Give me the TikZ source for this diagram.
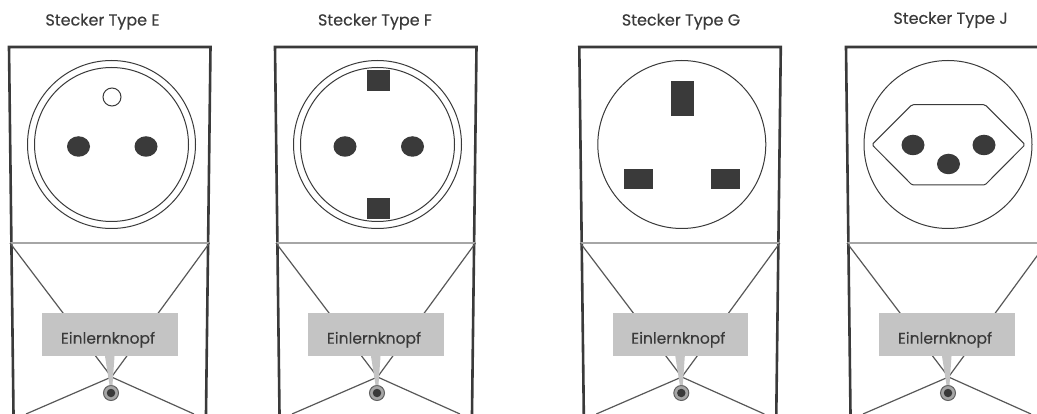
\documentclass[tikz,border=0pt]{standalone}
\usepackage{fontspec}
\setmainfont{Poppins}[FakeBold=0.25]
\usetikzlibrary{positioning,shapes.geometric}
\definecolor{ink}{HTML}{3A3A3A}
\definecolor{tag}{HTML}{C4C4C4}
\tikzset{
    %Define style for walls of the housing
    wall/.style={
           draw=ink,
           line width=2.6pt,
           line cap=butt},
    fold/.style={
           draw=ink!85!white,
           line width=1.2pt},
    crease/.style={
           draw=black!35!white,
           line width=1.4pt},
    %Define style for sockets
    ring/.style={
           circle,
           draw=ink,
           line width=1pt,
           inner sep=0pt,
           outer sep=0pt},
    hole/.style={
           ellipse,
           fill=ink,
           minimum width=23pt,
           minimum height=20.5pt,
           inner sep=0pt},
    pin/.style={
           rectangle,
           fill=ink,
           inner sep=0pt,
           outer sep=0pt},
    %Define style for labels
    title/.style={
           text=ink,
           font=\fontsize{16}{18}\selectfont},
    tagbox/.style={
           rectangle,
           fill=tag,
           text=ink,
           minimum width=135.5pt,
           minimum height=43pt,
           inner sep=0pt,
           outer sep=0pt,
           text height=18pt,
           text depth=0pt,
           font=\fontsize{15.5}{18}\selectfont}
}
\begin{document}
\begin{tikzpicture}[x=1pt,y=-1pt]
\clip (0,0) rectangle (1037,414);
\fill[white] (0,0) rectangle (1037,414);
 %housings
\foreach \n/\px/\tx/\ty/\letter in {e/9/102.5/21.7/E,f/275/375/21.7/F,g/579.3/681/21.7/G,j/846/950.6/20/J}{
  \node[title] (title\n) at (\tx,\ty) {Stecker Type \letter};
  \begin{scope}[xshift=\px pt]
    \coordinate (tl\n) at (0,47);
    \coordinate (tr\n) at (201.5,47);
    \coordinate (bl\n) at (4.5,414);
    \coordinate (br\n) at (197,414);
    \coordinate (ml\n) at (1,243);
    \coordinate (mr\n) at (200.5,243);
    \coordinate (apex\n) at (102.5,377);
    \coordinate (dl\n) at (17,414);
    \coordinate (dr\n) at (185,414);
    \draw[wall] (bl\n) -- (tl\n) -- (tr\n) -- (br\n);
    \draw[crease] (ml\n) -- (mr\n);
    \path[fold] (apex\n) edge (ml\n) edge (mr\n) edge (dl\n) edge (dr\n);
    \node[tagbox] (tag\n) at (101,334.7) {\hspace*{-4pt}Einlernknopf};
    \node[circle,draw=ink!80!white,fill=black!35!white,line width=1pt,minimum size=15pt,inner sep=0pt] (btn\n) at (102,393) {};
    \node[circle,fill=ink,minimum size=8.5pt,inner sep=0pt] (dot\n) at (btn\n) {};
    \fill[tag] ([xshift=-5pt]tag\n.south) -- ([xshift=4.5pt]tag\n.south) -- ([xshift=1.5pt]btn\n.north) -- ([xshift=-1.5pt]btn\n.north) -- cycle;
  \end{scope}
}
 %type E
\node[ring,minimum size=168pt] (oute) at (111.5,144.5) {};
\node[ring,minimum size=154pt] (inne) at (oute) {};
\node[ring,minimum size=18pt] (earthe) at (112,97) {};
\node[hole] (le) at (78.5,146.5) {};
\node[hole] (re) at (146,146.5) {};
 %type F
\node[ring,minimum size=168pt] (outf) at (377.5,144.5) {};
\node[ring,minimum size=154pt] (innf) at (outf) {};
\node[pin,minimum width=23pt,minimum height=21pt] (topf) at (378,80.5) {};
\node[pin,minimum width=23pt,minimum height=21pt] (botf) at (378,208.5) {};
\node[hole] (lf) at (345,146.5) {};
\node[hole] (rf) at (412.5,146.5) {};
 %type G
\node[ring,minimum size=168pt] (outg) at (681.8,144.5) {};
\node[pin,minimum width=23pt,minimum height=35pt] (topg) at (682,98.5) {};
\node[pin,minimum width=29pt,minimum height=20pt] (lg) at (638.5,179) {};
\node[pin,minimum width=29pt,minimum height=20pt] (rg) at (725,179) {};
 %type J
\node[ring,minimum size=168pt] (outj) at (948,144.5) {};
\draw[ink,line width=1pt,rounded corners=1.5pt] (872,144.7) -- (912,104.7) -- (985,104.7) -- (1025,144.7) -- (985,185) -- (912,185) -- cycle;
\node[hole] (lj) at (913,145) {};
\node[hole] (rj) at (984,145) {};
\node[hole] (mj) at (948.5,164) {};
\end{tikzpicture}
\end{document}
